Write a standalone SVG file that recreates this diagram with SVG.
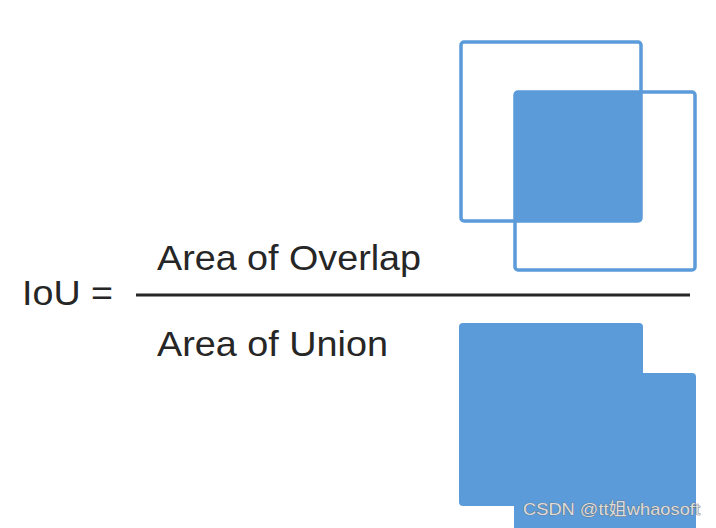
<svg xmlns="http://www.w3.org/2000/svg" width="716" height="528" viewBox="0 0 716 528">
<style>
.t{font-family:"Liberation Sans",Arial,sans-serif;fill:#262626;font-size:35px}
.o{fill:none;stroke:#5b9bd9;stroke-width:3.5}
.f{fill:#5b9bd9}
.wm{font-family:"Liberation Sans","Noto Sans CJK SC",sans-serif;font-size:17px;fill:#dcdcdc;stroke:#6a6a6a;stroke-width:0.7;paint-order:stroke}
</style>
<rect width="716" height="528" fill="#ffffff"/>
<g id="formula">
<text class="t" x="22" y="305" textLength="91" lengthAdjust="spacingAndGlyphs">IoU =</text>
<text class="t" x="157" y="270" textLength="264" lengthAdjust="spacingAndGlyphs">Area of Overlap</text>
<text class="t" x="157" y="356" textLength="231" lengthAdjust="spacingAndGlyphs">Area of Union</text>
</g>
<g id="connectors">
<line x1="136" y1="295" x2="690" y2="295" stroke="#262626" stroke-width="3"/>
</g>
<g id="overlap">
<rect class="f" x="514" y="91" width="128" height="131" rx="3"/>
<rect class="o" x="461" y="42" width="180" height="179" rx="3"/>
<rect class="o" x="515" y="92" width="180" height="178" rx="3"/>
</g>
<g id="union">
<rect class="f" x="459" y="323" width="184" height="183" rx="4"/>
<rect class="f" x="514" y="373" width="182" height="180" rx="4"/>
</g>
<text class="wm" x="523" y="515" textLength="177" lengthAdjust="spacingAndGlyphs">CSDN @tt姐whaosoft</text>
</svg>
